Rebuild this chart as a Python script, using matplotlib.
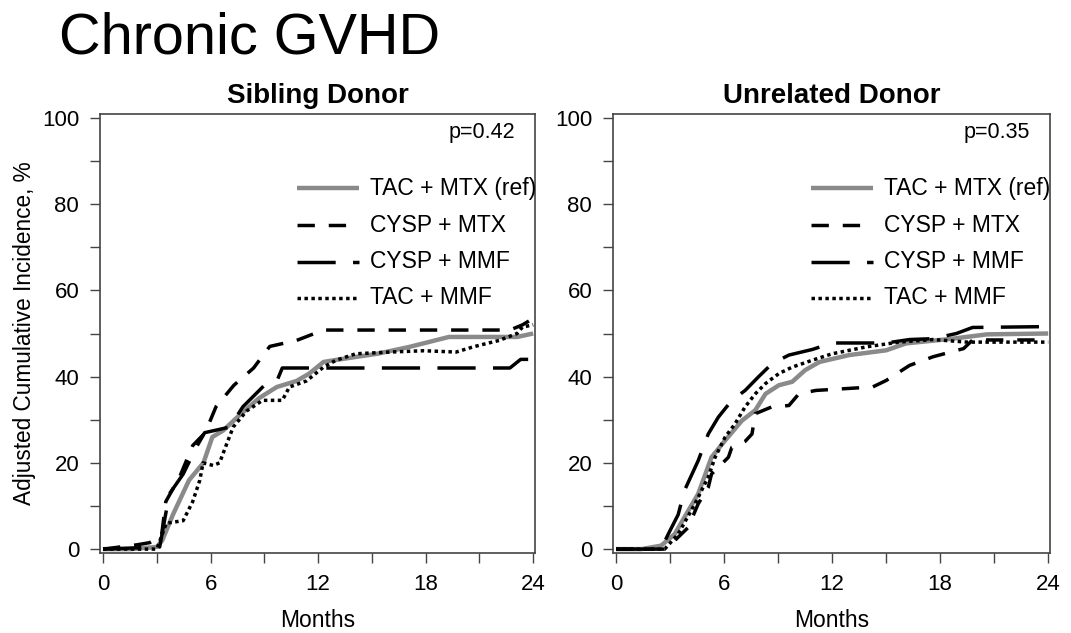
import matplotlib
matplotlib.use("Agg")
import matplotlib.pyplot as plt

plt.rcParams['font.family'] = ['Liberation Sans', 'DejaVu Sans']

# ---------------- data ----------------
series_names = ["TAC + MTX (ref)", "CYSP + MTX", "CYSP + MMF", "TAC + MMF"]
panel_titles = ["Sibling Donor", "Unrelated Donor"]
p_values = ["p=0.42", "p=0.35"]
x_ticks = [0, 6, 12, 18, 24]
y_ticks = [0, 20, 40, 60, 80, 100]

# Sibling donor
sib_tac_mtx_x = [0, 1.5, 3.0, 3.3, 3.9, 4.8, 5.6, 6.1, 6.7, 7.6, 8.7, 9.7, 10.8, 11.5, 12.3, 13.2, 15.3, 17.1, 19.3, 23.1, 24]
sib_tac_mtx_y = [0, 0, 0.5, 2, 8, 16, 20, 26, 27.5, 31, 35, 37.6, 39, 40.7, 43.4, 44, 45.3, 46.9, 49.2, 49.2, 50]
sib_cysp_mtx_x = [0, 1.9, 2.6, 3.26, 3.5, 4.3, 5.0, 5.7, 6.3, 7.3, 8.4, 9.3, 10.8, 12.3, 22.7, 23.4, 23.8, 24]
sib_cysp_mtx_y = [0, 1, 1.5, 3, 11, 17, 24, 27, 33, 38, 42, 47, 48.4, 50.8, 50.8, 52, 53, 53.5]
sib_cysp_mmf_x = [0, 3.16, 3.7, 4.47, 5.2, 5.67, 7.07, 7.8, 9.1, 9.7, 10.0, 22.7, 23.3, 24]
sib_cysp_mmf_y = [0, 0.5, 12.8, 17.4, 23.6, 27, 28.3, 33, 38.4, 39, 42, 42, 44, 44]
sib_tac_mmf_x = [0, 3.0, 3.53, 4.47, 5.0, 5.4, 5.58, 6.14, 6.5, 6.9, 7.26, 8.0, 8.9, 10.0, 10.4, 11.35, 12.3, 13.0, 14.1, 16.0, 17.9, 19.7, 20.65, 22.1, 23.1, 23.4, 24]
sib_tac_mmf_y = [0, 0, 6, 6.6, 11, 16, 20, 19.4, 20, 24.4, 28.3, 32, 34.5, 34.5, 37.6, 39, 42.2, 43.8, 45.3, 45.7, 46, 45.7, 46.9, 48.4, 50, 51.5, 52]

# Unrelated donor
unr_tac_mtx_x = [0, 1.4, 2.5, 3.26, 3.8, 4.56, 5.3, 6.06, 6.99, 7.73, 8.3, 9.04, 9.78, 10.5, 11.3, 12.95, 15.0, 16.1, 18.7, 20.6, 24]
unr_tac_mtx_y = [0, 0, 0.8, 3.5, 7.4, 12.8, 21.3, 25.2, 29.8, 32.2, 36, 38, 38.8, 41.5, 43.4, 45, 46.1, 47.7, 48.8, 49.8, 50]
unr_cysp_mtx_x = [0, 2.7, 3.26, 4.0, 4.56, 5.12, 5.3, 6.24, 6.43, 7.17, 7.55, 7.73, 8.66, 9.6, 10.15, 11.1, 14.25, 15.0, 16.3, 17.6, 19.3, 19.8, 24]
unr_cysp_mtx_y = [0, 0, 2, 5, 10.5, 14.3, 17.4, 21.3, 23.6, 25, 26.7, 31.4, 33, 33.3, 36, 36.8, 37.6, 39.1, 42.6, 44.6, 46.5, 48.5, 48.5]
unr_cysp_mmf_x = [0, 2.5, 2.9, 3.45, 3.8, 4.56, 5.12, 5.68, 6.43, 7.17, 7.92, 8.66, 9.6, 10.9, 12.0, 15.0, 16.3, 17.6, 18.9, 19.8, 24]
unr_cysp_mmf_y = [0, 0, 3.5, 8, 13.6, 20.5, 26.7, 30.6, 34.5, 36.8, 40, 43, 45, 46.3, 47.8, 47.8, 48.6, 48.8, 50, 51.4, 51.6]
unr_tac_mmf_x = [0, 1.77, 2.7, 3.45, 4.38, 5.12, 5.5, 6.06, 6.6, 7.17, 7.73, 8.3, 9.04, 9.78, 10.9, 12.0, 13.9, 15.7, 17.6, 19.5, 24]
unr_tac_mmf_y = [0, 0, 0, 3.5, 10.5, 16.7, 21.3, 26, 29, 33, 36, 38.4, 40.7, 42.2, 43.8, 45.3, 46.9, 48, 48.6, 48, 48]

panels = [
    [(sib_tac_mtx_x, sib_tac_mtx_y), (sib_cysp_mtx_x, sib_cysp_mtx_y),
     (sib_cysp_mmf_x, sib_cysp_mmf_y), (sib_tac_mmf_x, sib_tac_mmf_y)],
    [(unr_tac_mtx_x, unr_tac_mtx_y), (unr_cysp_mtx_x, unr_cysp_mtx_y),
     (unr_cysp_mmf_x, unr_cysp_mmf_y), (unr_tac_mmf_x, unr_tac_mmf_y)],
]

# ---------------- styles ----------------
styles = [
    dict(color="#8a8a8a", lw=3.2, linestyle="-", solid_capstyle="butt"),
    dict(color="black", lw=2.5, linestyle=(0, (5, 4))),
    dict(color="black", lw=2.5, linestyle=(0, (11, 5))),
    dict(color="black", lw=2.5, linestyle=(0, (1, 1))),
]

W, H = 1071, 633
fig = plt.figure(figsize=(W / 100, H / 100), dpi=100)
fig.patch.set_facecolor("white")

axes_px = [(100, 535), (613, 1050)]
top_px, bot_px = 114, 553

fig.text(59 / W, 1 - 38 / H, "Chronic GVHD", fontsize=41.5, va="center", ha="left")

for i, (l, r) in enumerate(axes_px):
    ax = fig.add_axes([l / W, 1 - bot_px / H, (r - l) / W, (bot_px - top_px) / H])
    for (xs, ys), st in zip(panels[i], styles):
        ax.plot(xs, ys, **st)
    ax.set_xlim(-0.17, 24.1)
    ax.set_ylim(-0.9, 100.9)
    ax.set_xticks(x_ticks)
    ax.set_xticks(range(0, 25, 3), minor=True)
    ax.set_yticks(y_ticks)
    ax.set_yticks(range(0, 101, 10), minor=True)
    ax.tick_params(which="both", direction="out", length=7, width=1, color="#444444", labelsize=16, pad=8)
    for s in ax.spines.values():
        s.set_color("#444444")
        s.set_linewidth(1.2)
    ax.set_xlabel("Months", fontsize=16.5, labelpad=10)
    if i == 0:
        ax.set_ylabel("Adjusted Cumulative Incidence, %", fontsize=16.3, labelpad=4)
    ax.set_title(panel_titles[i], fontsize=20, fontweight="bold", pad=8)
    ax.text(0.955, 0.957, p_values[i], transform=ax.transAxes, ha="right", va="center", fontsize=15.5)
    leg_y = [0.831, 0.747, 0.663, 0.581]
    for name, st, yy in zip(series_names, styles, leg_y):
        ax.plot([0.452, 0.596], [yy, yy], transform=ax.transAxes, **st)
        ax.text(0.621, yy, name, transform=ax.transAxes, ha="left", va="center",
                fontsize=16.5, clip_on=True)

fig.savefig("out.png", dpi=100, facecolor="white")
